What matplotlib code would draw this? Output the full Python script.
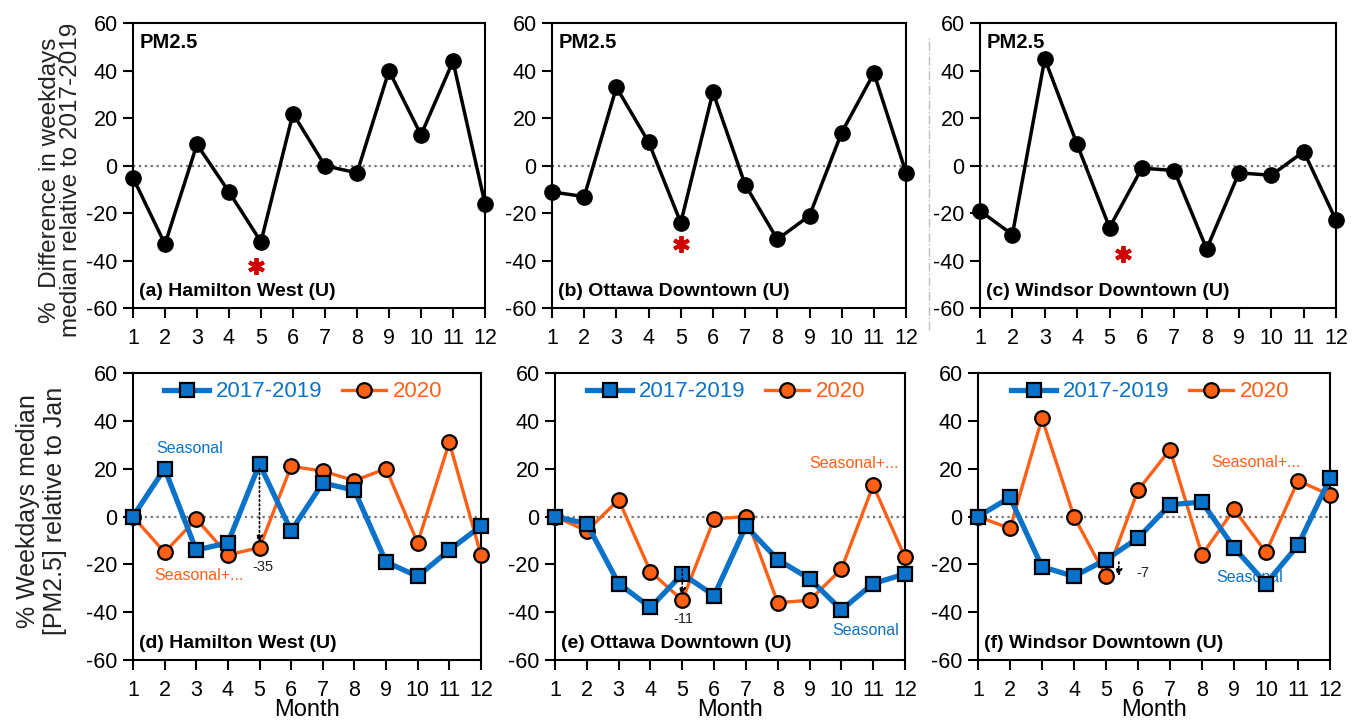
import matplotlib
matplotlib.use('Agg')
import matplotlib.pyplot as plt
from matplotlib.lines import Line2D

plt.rcParams['font.family'] = ['Liberation Sans', 'DejaVu Sans']
plt.rcParams['axes.unicode_minus'] = False

# Meses
months = list(range(1, 13))
month_labels = [str(m) for m in months]

# Fila superior: % diferencia 2020 vs 2017-2019
diff_hamilton = [-5, -33, 9, -11, -32, 22, 0, -3, 40, 13, 44, -16]
diff_ottawa = [-11, -13, 33, 10, -24, 31, -8, -31, -21, 14, 39, -3]
diff_windsor = [-19, -29, 45, 9, -26, -1, -2, -35, -3, -4, 6, -23]

# Fila inferior: % relativo a enero
base_hamilton = [0, 20, -14, -11, 22, -6, 14, 11, -19, -25, -14, -4]
y2020_hamilton = [0, -15, -1, -16, -13, 21, 19, 15, 20, -11, 31, -16]
base_ottawa = [0, -3, -28, -38, -24, -33, -4, -18, -26, -39, -28, -24]
y2020_ottawa = [0, -6, 7, -23, -35, -1, 0, -36, -35, -22, 13, -17]
base_windsor = [0, 8, -21, -25, -18, -9, 5, 6, -13, -28, -12, 16]
y2020_windsor = [0, -5, 41, 0, -25, 11, 28, -16, 3, -15, 15, 9]

top_titles = ['(a) Hamilton West (U)', '(b) Ottawa Downtown (U)', '(c) Windsor Downtown (U)']
bottom_titles = ['(d) Hamilton West (U)', '(e) Ottawa Downtown (U)', '(f) Windsor Downtown (U)']

# asteriscos (posicion x, y)
star_x = [4.85, 5.0, 5.43]
star_y = [-42, -33, -37]

# flechas: x, y inicio, y fin, texto, posicion texto
arrow_x = [5.0, 5.0, 5.4]
arrow_from = [20, -22, -19]
arrow_to = [-11, -33, -25]
arrow_text = ['-35', '-11', '-7']
arrow_text_xy = [(5.1, -21), (5.05, -43), (6.15, -23.5)]

# etiquetas "Seasonal"
seas_xy = [(2.8, 28.5), (10.75, -47.5), (9.5, -25.5)]
seas_plus_xy = [(3.1, -24.5), (10.4, 22), (9.7, 22.5)]

BLUE = '#0a72c8'
ORANGE = '#ff6016'

fig = plt.figure(figsize=(13.54, 7.27), dpi=100)

top_lefts = [0.0982, 0.4077, 0.7238]
bot_lefts = [0.0982, 0.4099, 0.7223]
widths = [0.260, 0.2615, 0.2630]


def style_ax(ax):
    ax.set_xlim(1, 12)
    ax.set_ylim(-60, 60)
    ax.set_xticks(months)
    ax.set_xticklabels(month_labels)
    ax.set_yticks(range(-60, 61, 20))
    ax.tick_params(direction='out', length=7, width=1.5, labelsize=15.5, pad=4,
                   top=False, right=False)
    ax.tick_params(axis='x', pad=7)
    for s in ax.spines.values():
        s.set_linewidth(1.5)
    ax.axhline(0, color='0.45', ls=':', lw=1.6, zorder=1)


top_data = [diff_hamilton, diff_ottawa, diff_windsor]
for i in range(3):
    ax = fig.add_axes([top_lefts[i], 0.576, widths[i], 0.392])
    style_ax(ax)
    ax.plot(months, top_data[i], color='black', lw=2.5, marker='o', ms=11,
            clip_on=False, zorder=3)
    ax.text(1.2, 52, 'PM2.5', fontsize=14.5, fontweight='bold', va='center')
    ax.text(1.2, -53, top_titles[i], fontsize=14, fontweight='bold', va='center')
    ax.plot(star_x[i], star_y[i], marker=(6, 2, 0), ms=12, mew=2.8, color='#d00000')
    if i == 0:
        ax.set_ylabel('%  Difference in weekdays\nmedian relative to 2017-2019',
                      fontsize=17.5, color='#222222', linespacing=0.95)
        ax.yaxis.set_label_coords(-0.145, 0.45)

bases = [base_hamilton, base_ottawa, base_windsor]
y2020s = [y2020_hamilton, y2020_ottawa, y2020_windsor]
for i in range(3):
    ax = fig.add_axes([bot_lefts[i], 0.092, widths[i] - 0.003, 0.395])
    style_ax(ax)
    l2, = ax.plot(months, y2020s[i], color=ORANGE, lw=2.4, marker='o', ms=10.5,
                  mfc=ORANGE, mec='black', mew=1.6, clip_on=False, zorder=3, label='2020')
    l1, = ax.plot(months, bases[i], color=BLUE, lw=3.8, marker='s', ms=10.5,
                  mfc=BLUE, mec='black', mew=1.6, clip_on=False, zorder=4, label='2017-2019')
    leg = ax.legend(handles=[l1, l2], loc='upper center', bbox_to_anchor=(0.49, 1.04),
                    ncol=2, frameon=False, fontsize=16, handlelength=2.0,
                    handletextpad=0.3, columnspacing=0.9)
    for t, c in zip(leg.get_texts(), [BLUE, ORANGE]):
        t.set_color(c)
    ax.text(1.2, -53, bottom_titles[i], fontsize=14, fontweight='bold', va='center')
    ax.annotate('', xy=(arrow_x[i], arrow_to[i]), xytext=(arrow_x[i], arrow_from[i]),
                arrowprops=dict(arrowstyle='-|>', ls=':', lw=1.2, color='black',
                                mutation_scale=10, shrinkA=0, shrinkB=0), zorder=5)
    ax.text(arrow_text_xy[i][0], arrow_text_xy[i][1], arrow_text[i], fontsize=10.5,
            ha='center', va='center', color='#222222')
    ax.text(seas_xy[i][0], seas_xy[i][1], 'Seasonal', fontsize=11.5, color=BLUE,
            ha='center', va='center', zorder=2)
    ax.text(seas_plus_xy[i][0], seas_plus_xy[i][1], 'Seasonal+...', fontsize=11.5,
            color=ORANGE, ha='center', va='center')
    ax.set_xlabel('Month', fontsize=17, labelpad=-1)
    if i == 0:
        ax.set_ylabel('% Weekdays median\n[PM2.5] relative to Jan',
                      fontsize=18, color='#222222', linespacing=1.15)
        ax.yaxis.set_label_coords(-0.19, 0.52)

# linea punteada entre paneles b y c
fig.add_artist(Line2D([0.686, 0.686], [0.546, 0.949], transform=fig.transFigure,
                      color='0.75', lw=1, ls='-.'))

fig.savefig('out.png', dpi=100)
